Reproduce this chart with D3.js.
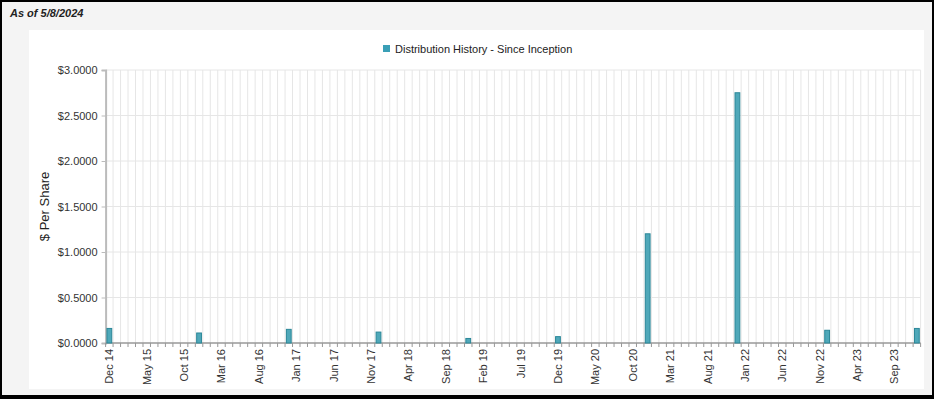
<!DOCTYPE html>
<html>
<head>
<meta charset="utf-8">
<script src="https://cdn.jsdelivr.net/npm/d3@7"></script>
<style>
  html, body { margin: 0; padding: 0; background: #000; }
  svg { display: block; font-family: "Liberation Sans", Arial, sans-serif; }
</style>
</head>
<body>
<script>
// ---- Data ----
const startMonth = "2014-12";
const endMonth = "2023-12";
const distDates = ["2014-12","2015-12","2016-12","2017-12","2018-12","2019-12","2020-12","2021-12","2022-12","2023-12"];
const distValues = [0.16, 0.11, 0.15, 0.12, 0.05, 0.07, 1.20, 2.75, 0.14, 0.16];
const yTicks = [0, 0.5, 1.0, 1.5, 2.0, 2.5, 3.0];
const seriesName = "Distribution History - Since Inception";
const asOf = "As of 5/8/2024";
const yTitle = "$ Per Share";

// ---- Build categories ----
const parse = d3.timeParse("%Y-%m");
const fmtKey = d3.timeFormat("%Y-%m");
const fmtLabel = d3.timeFormat("%b %y");
const months = d3.timeMonth.range(parse(startMonth), d3.timeMonth.offset(parse(endMonth), 1));
const categories = months.map(fmtKey);
const valueByKey = new Map(distDates.map((d, i) => [d, distValues[i]]));
const data = categories.map(k => ({ key: k, value: valueByKey.get(k) || 0 }));

const W = 934, H = 399;
const svg = d3.select("body").append("svg").attr("width", W).attr("height", H);

// frame
svg.append("rect").attr("x", 0).attr("y", 0).attr("width", W).attr("height", H).attr("fill", "#000");
svg.append("rect").attr("x", 2).attr("y", 2).attr("width", 930).attr("height", 393).attr("fill", "#f4f4f4");
svg.append("text").attr("x", 10).attr("y", 17)
  .attr("font-size", 11).attr("font-weight", "bold").attr("font-style", "italic")
  .attr("fill", "#222").text(asOf);
svg.append("rect").attr("x", 29).attr("y", 30).attr("width", 895).attr("height", 359).attr("fill", "#fff");

// scales
const plotL = 105.6, plotR = 920.6, plotT = 70, plotB = 343;
const x = d3.scaleBand().domain(categories).range([plotL, plotR]).paddingInner(0.36).paddingOuter(0.18);
const y = d3.scaleLinear().domain([0, 3]).range([plotB, plotT]);
const step = x.step();
const boundary = k => x(k) + x.bandwidth() / 2 - step / 2;
const boundaries = categories.map(boundary).concat([plotR]);

// grid
const g = svg.append("g");
g.selectAll("line.vg").data(boundaries.slice(1)).join("line")
  .attr("x1", d => d).attr("x2", d => d).attr("y1", plotT).attr("y2", plotB)
  .attr("stroke", "#e6e6e6").attr("stroke-width", 1);
g.selectAll("line.hg").data(yTicks.slice(1)).join("line")
  .attr("x1", plotL).attr("x2", plotR).attr("y1", d => y(d)).attr("y2", d => y(d))
  .attr("stroke", "#e6e6e6").attr("stroke-width", 1);

// y axis
const yAxis = d3.axisLeft(y).tickValues(yTicks).tickSize(4).tickPadding(4)
  .tickFormat(d => "$" + d3.format(".4f")(d));
const ya = svg.append("g").attr("transform", `translate(${plotL},0)`).call(yAxis);
ya.select(".domain").attr("stroke", "#bbb").attr("stroke-width", 2);
ya.selectAll(".tick line").attr("stroke", "#bbb");
ya.selectAll(".tick text").attr("font-size", 11).attr("fill", "#333").attr("font-family", "Liberation Sans, Arial, sans-serif");

// x axis ticks at boundaries
svg.append("g").selectAll("line").data(boundaries).join("line")
  .attr("x1", d => d).attr("x2", d => d).attr("y1", plotB).attr("y2", plotB + 4)
  .attr("stroke", "#999").attr("stroke-width", 1);
svg.append("line").attr("x1", plotL).attr("x2", plotR).attr("y1", plotB).attr("y2", plotB)
  .attr("stroke", "#999").attr("stroke-width", 1.5);

// x labels every 5 months
svg.append("g").selectAll("text").data(categories.filter((k, i) => i % 5 === 0)).join("text")
  .attr("transform", k => `translate(${x(k) + x.bandwidth() / 2 + 4},${plotB + 6}) rotate(-90)`)
  .attr("text-anchor", "end").attr("font-size", 11).attr("fill", "#333")
  .text(k => fmtLabel(parse(k)));

// bars
svg.append("g").selectAll("rect").data(data.filter(d => d.value > 0)).join("rect")
  .attr("x", d => x(d.key)).attr("width", x.bandwidth())
  .attr("y", d => y(d.value)).attr("height", d => y(0) - y(d.value))
  .attr("fill", "#4fa8b9").attr("stroke", "#2b8798").attr("stroke-width", 1);

// y title
svg.append("text").attr("transform", `translate(49,${(plotT + plotB) / 2}) rotate(-90)`)
  .attr("text-anchor", "middle").attr("font-size", 13).attr("fill", "#222").text(yTitle);

// legend
svg.append("rect").attr("x", 383).attr("y", 45).attr("width", 7).attr("height", 7).attr("fill", "#3a9fb6");
svg.append("text").attr("x", 395).attr("y", 53).attr("font-size", 11).attr("fill", "#222").text(seriesName);
</script>
</body>
</html>
